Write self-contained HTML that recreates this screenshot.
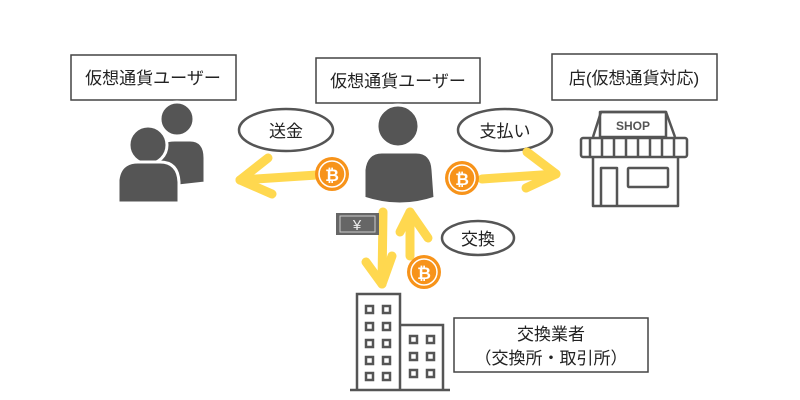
<!DOCTYPE html>
<html><head><meta charset="utf-8"><style>
body{margin:0;background:#fff}
svg{display:block}
text{font-family:"Liberation Sans","Noto Sans CJK JP",sans-serif;fill:#222}
</style></head><body>
<svg width="800" height="400" viewBox="0 0 800 400">
<g fill="#fff" stroke="#444" stroke-width="1.5">
<rect x="71" y="55" width="165" height="45"/>
<rect x="316" y="58" width="164" height="45"/>
<rect x="552" y="54" width="165" height="46"/>
<rect x="454" y="318" width="194" height="54"/>
</g>
<g font-size="17">
<text x="153" y="84" text-anchor="middle">仮想通貨ユーザー</text>
<text x="398" y="87" text-anchor="middle">仮想通貨ユーザー</text>
<text x="634" y="84" text-anchor="middle">店(仮想通貨対応)</text>
<text x="551" y="340" text-anchor="middle">交換業者</text>
<text x="551" y="364" text-anchor="middle">（交換所・取引所）</text>
</g>
<g fill="#fff" stroke="#555" stroke-width="2.5">
<ellipse cx="286" cy="130" rx="47" ry="21"/>
<ellipse cx="505" cy="130" rx="47" ry="21"/>
<ellipse cx="478" cy="238" rx="36" ry="17"/>
</g>
<g font-size="17">
<text x="286" y="137" text-anchor="middle">送金</text>
<text x="505" y="137" text-anchor="middle">支払い</text>
<text x="478" y="245" text-anchor="middle">交換</text>
</g>
<g fill="#555" stroke="#fff" stroke-width="3">
<circle cx="177" cy="119" r="17"/>
<path d="M158 150 Q160 140 175 140 L190 140 Q205 140 205 158 L205 183 L160 188 Z"/>
<circle cx="148" cy="145" r="19"/>
<path d="M118 180 Q120 162 138 162 L160 162 Q178 162 179 182 L179 203 L118 203 Z"/>
<circle cx="398" cy="126" r="21"/>
<path d="M364 170 Q366 152 382 152 L416 152 Q432 152 433 170 L435 198 Q400 210 364 198 Z"/>
</g>
<g fill="none" stroke="#ffd84f" stroke-width="9" stroke-linecap="round" stroke-linejoin="round">
<path d="M317 175 L240 180"/><path d="M268 158 L240 180 L272 194"/>
<path d="M482 179 L556 174"/><path d="M527 152 L556 174 L526 188"/>
<path d="M383 212 L382 284"/><path d="M366 262 L382 284 L392 256"/>
<path d="M410 256 L410 212"/><path d="M400 232 L410 212 L428 238"/>
</g>
<g>
<circle cx="332" cy="174" r="17" fill="#f7931a"/><circle cx="332" cy="174" r="13" fill="none" stroke="#fff" stroke-width="1.5"/>
<text x="332" y="181" font-size="17" font-weight="bold" text-anchor="middle" style="fill:#fff">₿</text>
<circle cx="462" cy="178" r="17" fill="#f7931a"/><circle cx="462" cy="178" r="13" fill="none" stroke="#fff" stroke-width="1.5"/>
<text x="462" y="185" font-size="17" font-weight="bold" text-anchor="middle" style="fill:#fff">₿</text>
<circle cx="424" cy="272" r="17" fill="#f7931a"/><circle cx="424" cy="272" r="13" fill="none" stroke="#fff" stroke-width="1.5"/>
<text x="424" y="279" font-size="17" font-weight="bold" text-anchor="middle" style="fill:#fff">₿</text>
</g>
<rect x="336" y="213" width="43" height="22" fill="#666"/>
<rect x="340" y="216" width="35" height="16" fill="none" stroke="#ccc" stroke-width="1"/>
<text x="357" y="230" font-size="15" text-anchor="middle" style="fill:#eee">¥</text>
<g fill="none" stroke="#555" stroke-width="2.5" stroke-linejoin="round">
<path d="M593 137 L601 112 L666 112 L675 137"/>
<rect x="600" y="112" width="66" height="25"/>
<rect x="581" y="138" width="106" height="19" rx="2"/>
<path d="M590 138v19M602 138v19M614 138v19M626 138v19M638 138v19M650 138v19M662 138v19M674 138v19"/>
<path d="M593 157 V206 H678 V157"/>
<path d="M601 206 V168 H617 V206"/>
<rect x="628" y="168" width="40" height="19" rx="1"/>
</g>
<text x="633" y="130" font-size="12" font-weight="bold" text-anchor="middle" style="fill:#555">SHOP</text>
<g fill="none" stroke="#555" stroke-width="2.5">
<path d="M357 390 V294 H400 V390 M400 325 H443 V390 M350 390 H450"/>
</g>
<g fill="none" stroke="#555" stroke-width="2.5">
<rect x="366" y="306" width="7" height="7"/><rect x="383" y="306" width="7" height="7"/>
<rect x="366" y="323" width="7" height="7"/><rect x="383" y="323" width="7" height="7"/>
<rect x="366" y="340" width="7" height="7"/><rect x="383" y="340" width="7" height="7"/>
<rect x="366" y="357" width="7" height="7"/><rect x="383" y="357" width="7" height="7"/>
<rect x="366" y="373" width="7" height="7"/><rect x="383" y="373" width="7" height="7"/>
<rect x="410" y="336" width="7" height="7"/><rect x="427" y="336" width="7" height="7"/>
<rect x="410" y="353" width="7" height="7"/><rect x="427" y="353" width="7" height="7"/>
<rect x="410" y="370" width="7" height="7"/><rect x="427" y="370" width="7" height="7"/>
</g>
</svg>
</body></html>
